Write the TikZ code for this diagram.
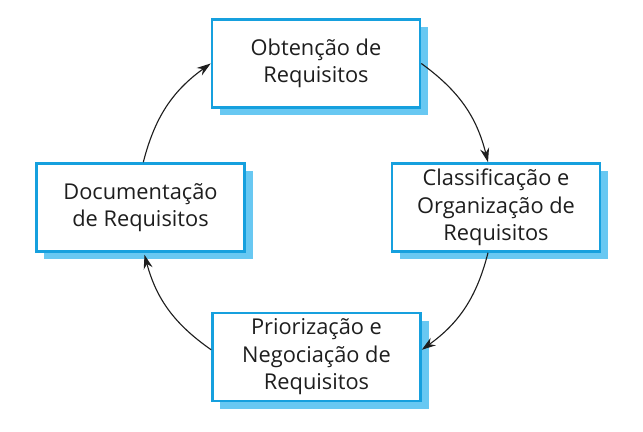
\documentclass[tikz,border=0pt]{standalone}
\usepackage{fontspec}
\setmainfont{Open Sans}
\usetikzlibrary{arrows.meta,shadows}
\definecolor{boxblue}{RGB}{22,160,222}
\definecolor{shadeblue}{RGB}{104,200,242}
\definecolor{txtgray}{RGB}{30,30,30}
\begin{document}
\begin{tikzpicture}[x=0.025cm,y=0.025cm,
  reqbox/.style={draw=boxblue,line width=1.8pt,fill=white,minimum width=5.2cm,minimum height=2.2cm,
    align=center,text=txtgray,font=\fontsize{15.5}{19.5}\selectfont,
    drop shadow={fill=shadeblue,opacity=1,shadow xshift=0.2cm,shadow yshift=-0.19cm}},
  cyc/.style={draw=txtgray,line width=0.8pt,-{Stealth[length=10pt,width=6.5pt]}}]
\useasboundingbox (0,0) rectangle (643,432);
\node[reqbox] (obt) at (316,368.5) {Obtenção de\\Requisitos};
\node[reqbox] (cla) at (496,224.5) {Classificação e\\Organização de\\Requisitos};
\node[reqbox] (pri) at (316.5,75) {Priorização e\\Negociação de\\Requisitos};
\node[reqbox] (doc) at (140.5,224.5) {Documentação\\de Requisitos};
\draw[cyc] ([xshift=0.07cm]doc.north) to[bend left=20] (obt.west);
\draw[cyc] (obt.east) to[bend left=20] ([xshift=-0.2cm]cla.north);
\draw[cyc] ([xshift=-0.2cm]cla.south) to[bend left=20] ([yshift=0.18cm]pri.east);
\draw[cyc] ([yshift=0.18cm]pri.west) to[bend left=20] ([xshift=0.1cm,yshift=-0.05cm]doc.south);
\end{tikzpicture}
\end{document}
